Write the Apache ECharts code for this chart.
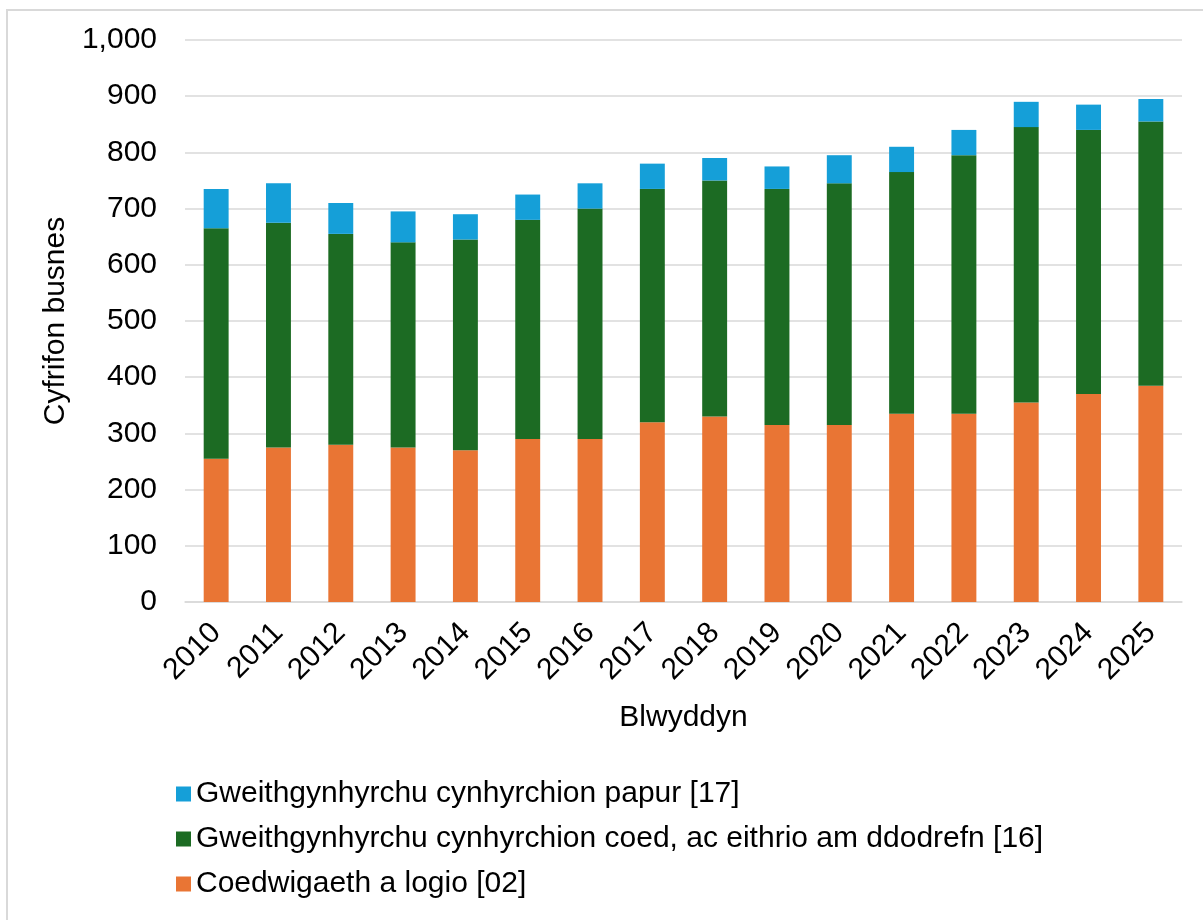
<!DOCTYPE html>
<html>
<head>
<meta charset="utf-8">
<script src="https://cdn.jsdelivr.net/npm/echarts@6/dist/echarts.min.js"></script>
<style>
  html, body { margin: 0; padding: 0; background: #fff; }
  #chart { width: 1203px; height: 920px; }
</style>
</head>
<body>
<div id="chart"></div>
<script>
// data
var years = ["2010", "2011", "2012", "2013", "2014", "2015", "2016", "2017",
             "2018", "2019", "2020", "2021", "2022", "2023", "2024", "2025"];
var forestry = [255, 275, 280, 275, 270, 290, 290, 320, 330, 315, 315, 335, 335, 355, 370, 385];
var wood = [410, 400, 375, 365, 375, 390, 410, 415, 420, 420, 430, 430, 460, 490, 470, 470];
var paper = [70, 70, 55, 55, 45, 45, 45, 45, 40, 40, 50, 45, 45, 45, 45, 40];

var nameForestry = "Coedwigaeth a logio [02]";
var nameWood = "Gweithgynhyrchu cynhyrchion coed, ac eithrio am ddodrefn [16]";
var namePaper = "Gweithgynhyrchu cynhyrchion papur [17]";

var font = "'Liberation Sans', Arial, sans-serif";
var chart = echarts.init(document.getElementById("chart"));

chart.setOption({
  animation: false,
  textStyle: { fontFamily: font },
  graphic: [{
    type: "rect",
    shape: { x: 7, y: 10, width: 1400, height: 1200 },
    style: { fill: "none", stroke: "#d9d9d9", lineWidth: 2 },
    silent: true
  }],
  grid: { left: 185, right: 21, top: 40, bottom: 318 },
  legend: {
    orient: "vertical",
    left: 171,
    top: 774,
    itemWidth: 15,
    itemHeight: 15,
    itemGap: 15,
    icon: "rect",
    data: [namePaper, nameWood, nameForestry],
    textStyle: { fontSize: 30, color: "#000", fontFamily: font, padding: [0, 0, 0, 0] }
  },
  xAxis: {
    type: "category",
    data: years,
    name: "Blwyddyn",
    nameLocation: "middle",
    nameGap: 101,
    nameTextStyle: { fontSize: 30, color: "#000" },
    axisLine: { lineStyle: { color: "#d9d9d9", width: 1.5 } },
    axisTick: { show: false },
    axisLabel: { rotate: 45, fontSize: 30, color: "#000", margin: 26 }
  },
  yAxis: {
    type: "value",
    min: 0,
    max: 1000,
    interval: 100,
    name: "Cyfrifon busnes",
    nameLocation: "middle",
    nameGap: 108,
    nameTextStyle: { fontSize: 30, color: "#000" },
    axisLine: { show: false },
    axisTick: { show: false },
    splitLine: { lineStyle: { color: "#d9d9d9", width: 1.5 } },
    axisLabel: {
      fontSize: 30, color: "#000", margin: 28,
      formatter: function (v) { return v.toLocaleString("en-GB"); }
    }
  },
  series: [
    { name: nameForestry, type: "bar", stack: "total", data: forestry, barWidth: "40%",
      itemStyle: { color: "#e97534" } },
    { name: nameWood, type: "bar", stack: "total", data: wood,
      itemStyle: { color: "#1c6b23" } },
    { name: namePaper, type: "bar", stack: "total", data: paper,
      itemStyle: { color: "#159fd8" } }
  ]
});
</script>
</body>
</html>
